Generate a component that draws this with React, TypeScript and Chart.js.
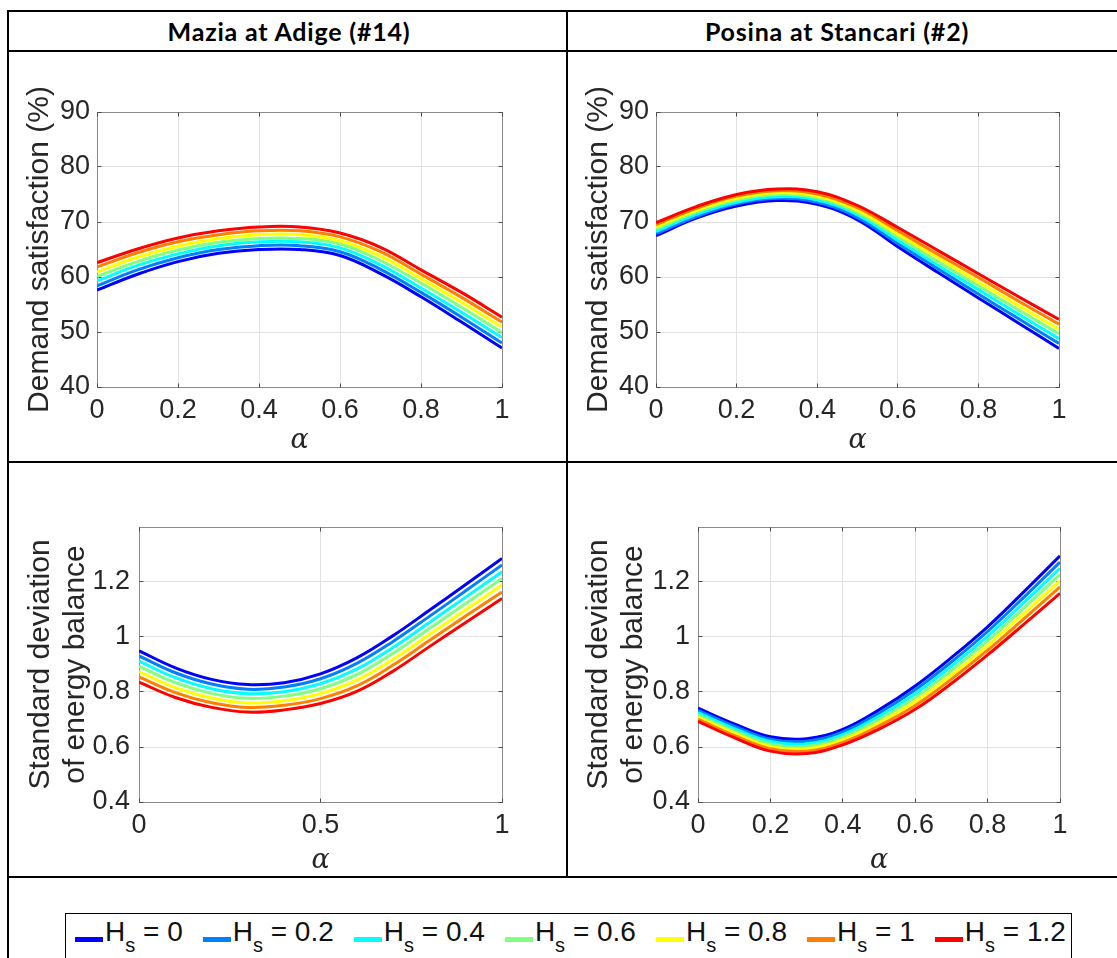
import React, { useEffect, useRef } from 'react';
import { Chart, registerables } from 'chart.js';

Chart.register(...registerables);

// ---------------- data ----------------
const alpha = [0, 0.1, 0.2, 0.3, 0.4, 0.5, 0.6, 0.7, 0.8, 0.9, 1];
const hsLabels = ['0', '0.2', '0.4', '0.6', '0.8', '1', '1.2'];
const hsColors = ['#0000ff', '#0080ff', '#00ffff', '#80ff80', '#ffff00', '#ff8000', '#ff0000'];

const xTicksFine = [0, 0.2, 0.4, 0.6, 0.8, 1];
const xTicksCoarse = [0, 0.5, 1];
const yTicksDemand = [40, 50, 60, 70, 80, 90];
const yTicksStd = [0.4, 0.6, 0.8, 1, 1.2];

const siteTitles = ['Mazia at Adige (#14)', 'Posina at Stancari (#2)'];
const demandTitle = 'Demand satisfaction (%)';
const stdTitle = ['Standard deviation', 'of energy balance'];
const xTitle = 'α';

// Mazia at Adige – demand satisfaction (%)
const maziaDemandHs0 = [57.6, 60.5, 62.8, 64.3, 65.0, 65.0, 63.9, 60.6, 56.4, 51.8, 47.1];
const maziaDemandHs02 = [58.4, 61.3, 63.5, 65.0, 65.7, 65.7, 64.6, 61.4, 57.2, 52.7, 48.0];
const maziaDemandHs04 = [59.3, 62.1, 64.2, 65.7, 66.4, 66.4, 65.3, 62.2, 58.0, 53.6, 49.0];
const maziaDemandHs06 = [60.1, 62.8, 64.9, 66.3, 67.0, 67.0, 66.0, 63.0, 58.9, 54.5, 49.9];
const maziaDemandHs08 = [60.9, 63.6, 65.6, 67.0, 67.7, 67.7, 66.6, 63.8, 59.7, 55.4, 50.9];
const maziaDemandHs10 = [61.8, 64.4, 66.4, 67.7, 68.4, 68.4, 67.3, 64.6, 60.5, 56.3, 51.8];
const maziaDemandHs12 = [62.6, 65.1, 67.1, 68.4, 69.1, 69.1, 68.0, 65.4, 61.3, 57.2, 52.7];

// Posina at Stancari – demand satisfaction (%)
const posinaDemandHs0 = [67.5, 70.7, 72.9, 73.9, 73.2, 70.4, 65.5, 60.8, 56.2, 51.6, 47.0];
const posinaDemandHs02 = [67.9, 71.0, 73.3, 74.3, 73.6, 70.8, 66.1, 61.5, 56.9, 52.4, 47.9];
const posinaDemandHs04 = [68.3, 71.4, 73.6, 74.6, 74.0, 71.3, 66.7, 62.1, 57.7, 53.2, 48.8];
const posinaDemandHs06 = [68.7, 71.8, 74.0, 75.0, 74.4, 71.7, 67.3, 62.8, 58.4, 54.0, 49.7];
const posinaDemandHs08 = [69.1, 72.1, 74.3, 75.3, 74.7, 72.1, 67.8, 63.5, 59.1, 54.8, 50.5];
const posinaDemandHs10 = [69.5, 72.5, 74.7, 75.7, 75.1, 72.6, 68.4, 64.1, 59.9, 55.6, 51.4];
const posinaDemandHs12 = [69.9, 72.8, 75.0, 76.0, 75.5, 73.0, 69.0, 64.8, 60.6, 56.4, 52.3];

// Mazia at Adige – standard deviation of energy balance
const maziaStdHs0 = [0.950, 0.888, 0.846, 0.827, 0.834, 0.866, 0.924, 1.005, 1.097, 1.191, 1.286];
const maziaStdHs02 = [0.931, 0.870, 0.829, 0.810, 0.818, 0.848, 0.904, 0.984, 1.075, 1.168, 1.262];
const maziaStdHs04 = [0.912, 0.852, 0.812, 0.794, 0.801, 0.830, 0.883, 0.962, 1.053, 1.145, 1.237];
const maziaStdHs06 = [0.893, 0.834, 0.795, 0.777, 0.785, 0.812, 0.863, 0.941, 1.031, 1.122, 1.213];
const maziaStdHs08 = [0.874, 0.816, 0.778, 0.760, 0.768, 0.794, 0.843, 0.919, 1.009, 1.099, 1.189];
const maziaStdHs10 = [0.855, 0.798, 0.761, 0.744, 0.752, 0.776, 0.822, 0.898, 0.987, 1.076, 1.164];
const maziaStdHs12 = [0.836, 0.780, 0.744, 0.727, 0.735, 0.758, 0.802, 0.876, 0.965, 1.053, 1.140];

// Posina at Stancari – standard deviation of energy balance
const posinaStdHs0 = [0.741, 0.684, 0.637, 0.630, 0.664, 0.735, 0.822, 0.925, 1.037, 1.164, 1.295];
const posinaStdHs02 = [0.733, 0.676, 0.628, 0.621, 0.655, 0.723, 0.808, 0.909, 1.020, 1.144, 1.272];
const posinaStdHs04 = [0.725, 0.667, 0.620, 0.612, 0.645, 0.712, 0.794, 0.894, 1.003, 1.125, 1.250];
const posinaStdHs06 = [0.717, 0.659, 0.611, 0.603, 0.636, 0.700, 0.780, 0.878, 0.986, 1.105, 1.227];
const posinaStdHs08 = [0.709, 0.651, 0.602, 0.594, 0.627, 0.688, 0.765, 0.862, 0.969, 1.085, 1.204];
const posinaStdHs10 = [0.701, 0.642, 0.594, 0.585, 0.617, 0.677, 0.751, 0.847, 0.952, 1.066, 1.182];
const posinaStdHs12 = [0.693, 0.634, 0.585, 0.576, 0.608, 0.665, 0.737, 0.831, 0.935, 1.046, 1.159];

const maziaDemand = [maziaDemandHs0, maziaDemandHs02, maziaDemandHs04, maziaDemandHs06, maziaDemandHs08, maziaDemandHs10, maziaDemandHs12];
const posinaDemand = [posinaDemandHs0, posinaDemandHs02, posinaDemandHs04, posinaDemandHs06, posinaDemandHs08, posinaDemandHs10, posinaDemandHs12];
const maziaStd = [maziaStdHs0, maziaStdHs02, maziaStdHs04, maziaStdHs06, maziaStdHs08, maziaStdHs10, maziaStdHs12];
const posinaStd = [posinaStdHs0, posinaStdHs02, posinaStdHs04, posinaStdHs06, posinaStdHs08, posinaStdHs10, posinaStdHs12];

// ---------------- styling ----------------
const SANS = "'Liberation Sans', Arial, Helvetica, sans-serif";
const TEXT = '#262626';
const GRID = '#e2e2e2';
const BOX = '#8a8a8a';
const TICK = '#4a4a4a';
const TICK_LEN = 4;
const TICK_FONT = 27;
const TITLE_FONT = 30;
const TITLE_LH = 1.16;
const ALPHA_FONT = 27;

const boxPlugin = {
  id: 'matlabBox',
  beforeDatasetsDraw(chart: any) {
    const { ctx, chartArea: a, scales } = chart;
    const L = Math.floor(a.left) + 0.5;
    const R = Math.floor(a.right) + 0.5;
    const T = Math.floor(a.top) + 0.5;
    const B = Math.floor(a.bottom) + 0.5;
    ctx.save();
    ctx.lineWidth = 1;
    ctx.strokeStyle = BOX;
    ctx.strokeRect(L, T, R - L, B - T);
    ctx.strokeStyle = TICK;
    ctx.beginPath();
    scales.x.ticks.forEach((t: any) => {
      const p = Math.floor(scales.x.getPixelForValue(t.value)) + 0.5;
      ctx.moveTo(p, B); ctx.lineTo(p, B - TICK_LEN);
      ctx.moveTo(p, T); ctx.lineTo(p, T + TICK_LEN);
    });
    scales.y.ticks.forEach((t: any) => {
      const p = Math.floor(scales.y.getPixelForValue(t.value)) + 0.5;
      ctx.moveTo(L, p); ctx.lineTo(L + TICK_LEN, p);
      ctx.moveTo(R, p); ctx.lineTo(R - TICK_LEN, p);
    });
    ctx.stroke();
    ctx.restore();
  },
};

type Rect = { left: number; top: number; width: number; height: number };
type Plot = { left: number; top: number; right: number; bottom: number };

interface PanelProps {
  box: Rect;
  plot: Plot;
  series: number[][];
  xTicks: number[];
  yTicks: number[];
  yMin: number;
  yMax: number;
  yTitle: string | string[];
  yTitleX: number;
  xTitleY: number;
  yTickPad: number;
}

function Panel(p: PanelProps) {
  const ref = useRef<HTMLCanvasElement>(null);
  useEffect(() => {
    const { box, plot } = p;
    const titleLh = TITLE_FONT * TITLE_LH;
    const chart = new Chart(ref.current as HTMLCanvasElement, {
      type: 'line',
      data: {
        datasets: p.series.map((vals, i) => ({
          label: 'Hs = ' + hsLabels[i],
          data: alpha.map((a, j) => ({ x: a, y: vals[j] })),
          borderColor: hsColors[i],
          backgroundColor: hsColors[i],
          borderWidth: 3,
          pointRadius: 0,
          tension: 0.4,
          fill: false,
          order: p.series.length - 1 - i,
        })),
      },
      options: {
        responsive: false,
        animation: false,
        layout: {
          padding: {
            left: 0,
            top: plot.top - box.top,
            right: box.left + box.width - plot.right,
            bottom: 0,
          },
        },
        plugins: { legend: { display: false }, tooltip: { enabled: false } },
        scales: {
          x: {
            type: 'linear',
            min: 0,
            max: 1,
            afterBuildTicks: (s: any) => {
              s.ticks = p.xTicks.map((v) => ({ value: v }));
            },
            afterFit: (s: any) => {
              s.height = box.top + box.height - plot.bottom;
            },
            ticks: {
              padding: 7,
              autoSkip: false,
              maxRotation: 0,
              color: TEXT,
              font: { family: SANS, size: TICK_FONT, lineHeight: 1.2 },
              callback: (v: any) => String(v),
            },
            grid: { color: GRID, lineWidth: 1, drawTicks: false },
            border: { display: false },
            title: {
              display: true,
              text: xTitle,
              color: TEXT,
              font: { family: "'DejaVu Serif', 'Liberation Serif', serif", style: 'italic', size: ALPHA_FONT, lineHeight: 1 },
              padding: { top: 0, bottom: box.top + box.height - p.xTitleY - ALPHA_FONT / 2 },
            },
          },
          y: {
            type: 'linear',
            min: p.yMin,
            max: p.yMax,
            afterBuildTicks: (s: any) => {
              s.ticks = p.yTicks.map((v) => ({ value: v }));
            },
            afterFit: (s: any) => {
              s.width = plot.left - box.left;
            },
            ticks: {
              padding: p.yTickPad,
              autoSkip: false,
              color: TEXT,
              font: { family: SANS, size: TICK_FONT, lineHeight: 1.2 },
              callback: (v: any) => String(v),
            },
            grid: { color: GRID, lineWidth: 1, drawTicks: false },
            border: { display: false },
            title: {
              display: true,
              text: p.yTitle as any,
              color: TEXT,
              font: { family: SANS, size: TITLE_FONT, lineHeight: TITLE_LH },
              padding: { top: p.yTitleX - box.left - titleLh / 2, bottom: 0 },
            },
          },
        },
      } as any,
      plugins: [boxPlugin],
    });
    return () => chart.destroy();
  }, []);
  return (
    <canvas
      ref={ref}
      width={p.box.width}
      height={p.box.height}
      style={{ position: 'absolute', left: p.box.left, top: p.box.top, width: p.box.width, height: p.box.height }}
    />
  );
}

function Line({ left, top, width, height }: Rect) {
  return <div style={{ position: 'absolute', left, top, width, height, background: '#000' }} />;
}

function Legend() {
  return (
    <div
      style={{
        position: 'absolute',
        left: 65,
        top: 913,
        width: 1007,
        height: 70,
        border: '1px solid #000',
        boxSizing: 'border-box',
        background: '#fff',
      }}
    >
      <div
        style={{
          position: 'absolute',
          left: 9,
          top: 4,
          height: 30,
          display: 'flex',
          alignItems: 'center',
          gap: 20,
          whiteSpace: 'nowrap',
        }}
      >
        {hsLabels.map((l, i) => (
          <div key={l} style={{ display: 'flex', alignItems: 'center' }}>
            <div
              style={{
                width: 28,
                height: 5,
                background: hsColors[i],
                marginRight: 2,
                position: 'relative',
                top: 6,
              }}
            />
            <span style={{ fontFamily: SANS, fontSize: 28, lineHeight: '28px', color: '#111' }}>
              H
              <span style={{ fontSize: 20, position: 'relative', top: 11 }}>s</span>
              {' = ' + l}
            </span>
          </div>
        ))}
      </div>
    </div>
  );
}

export default function App() {
  return (
    <div
      style={{
        position: 'absolute',
        left: 0,
        top: 0,
        width: 1117,
        height: 958,
        overflow: 'hidden',
        background: '#fff',
      }}
    >
      {siteTitles.map((t, i) => (
        <div
          key={t}
          style={{
            position: 'absolute',
            left: (i === 0 ? 289 : 837) - 200,
            top: 19,
            width: 400,
            textAlign: 'center',
            fontFamily: "Lato, 'Open Sans', sans-serif",
            fontWeight: 700,
            fontSize: 25,
            letterSpacing: 0.8,
            lineHeight: '25px',
            color: '#000',
            whiteSpace: 'nowrap',
          }}
        >
          {t}
        </div>
      ))}

      <Panel
        box={{ left: 10, top: 50, width: 550, height: 410 }}
        plot={{ left: 97, top: 112, right: 502, bottom: 387 }}
        series={maziaDemand}
        xTicks={xTicksFine}
        yTicks={yTicksDemand}
        yMin={40}
        yMax={90}
        yTitle={demandTitle}
        yTitleX={40}
        xTitleY={441}
        yTickPad={7}
      />
      <Panel
        box={{ left: 570, top: 50, width: 545, height: 410 }}
        plot={{ left: 656, top: 112, right: 1059, bottom: 387 }}
        series={posinaDemand}
        xTicks={xTicksFine}
        yTicks={yTicksDemand}
        yMin={40}
        yMax={90}
        yTitle={demandTitle}
        yTitleX={598.5}
        xTitleY={441}
        yTickPad={7}
      />
      <Panel
        box={{ left: 10, top: 470, width: 550, height: 405 }}
        plot={{ left: 139, top: 527, right: 502, bottom: 802 }}
        series={maziaStd}
        xTicks={xTicksCoarse}
        yTicks={yTicksStd}
        yMin={0.4}
        yMax={1.4}
        yTitle={stdTitle}
        yTitleX={40.5}
        xTitleY={861}
        yTickPad={9}
      />
      <Panel
        box={{ left: 570, top: 470, width: 545, height: 405 }}
        plot={{ left: 698, top: 527, right: 1060, bottom: 802 }}
        series={posinaStd}
        xTicks={xTicksFine}
        yTicks={yTicksStd}
        yMin={0.4}
        yMax={1.4}
        yTitle={stdTitle}
        yTitleX={599}
        xTitleY={861}
        yTickPad={8}
      />

      <Legend />

      <Line left={7} top={10} width={1110} height={2} />
      <Line left={7} top={10} width={2} height={948} />
      <Line left={7} top={50} width={1110} height={2} />
      <Line left={566} top={10} width={2} height={867} />
      <Line left={7} top={461} width={1110} height={2} />
      <Line left={7} top={876} width={1110} height={2} />
    </div>
  );
}
